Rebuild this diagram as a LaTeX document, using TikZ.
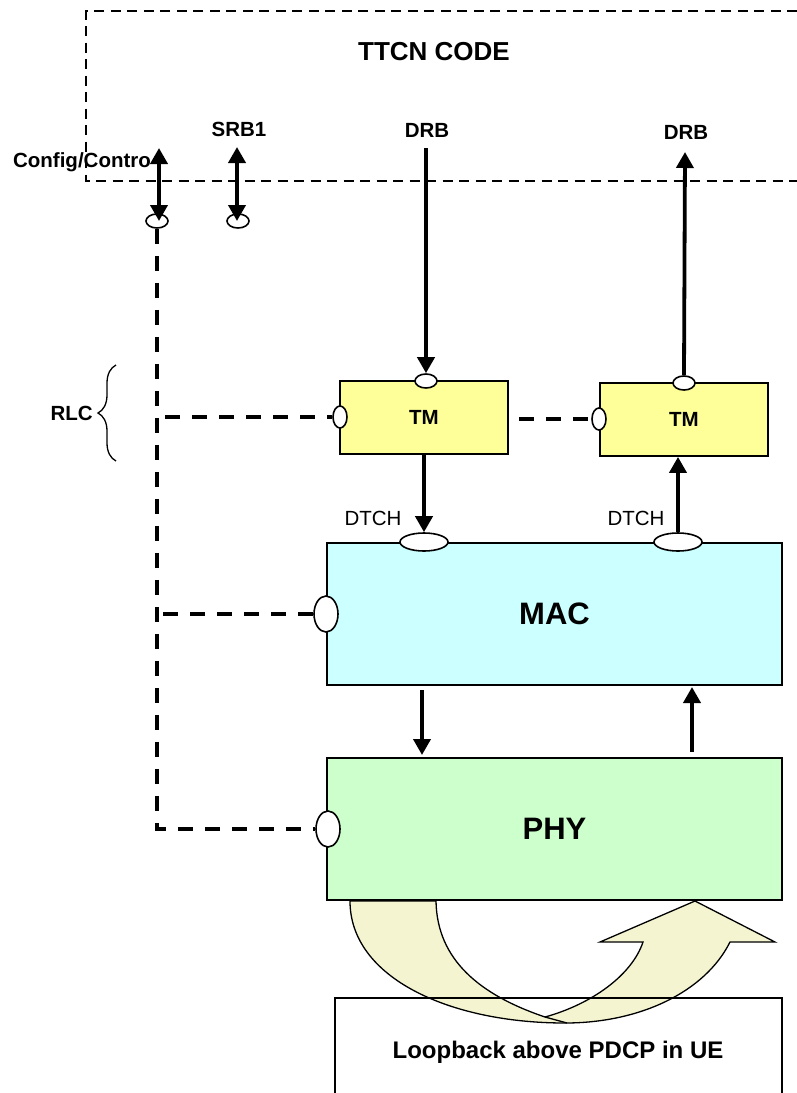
\documentclass[tikz,border=0pt]{standalone}
\usepackage{fontspec}
\setmainfont{Liberation Sans}
\usetikzlibrary{arrows.meta,shapes.geometric,decorations.pathreplacing,calc}
\definecolor{tmfill}{RGB}{255,255,153}
\definecolor{macfill}{RGB}{204,255,255}
\definecolor{phyfill}{RGB}{204,255,204}
\definecolor{loopfill}{RGB}{243,243,203}
\begin{document}
\begin{tikzpicture}[x=1pt,y=-1pt,
  port/.style={ellipse,draw,fill=white,line width=1.6pt,inner sep=0pt},
  block/.style={rectangle,draw,line width=1.8pt,inner sep=0pt},
  arr/.style={line width=3.8pt,-{Triangle[width=17pt,length=16pt]}},
  darr/.style={line width=3.8pt,{Triangle[width=17pt,length=16pt]}-{Triangle[width=17pt,length=16pt]}},
  ctl/.style={line width=3.3pt,dash pattern=on 15pt off 12pt},
  ttcn/.style={line width=1.2pt,dash pattern=on 10pt off 6.5pt},
  lbl/.style={font=\bfseries\fontsize{20.5}{24}\selectfont,inner sep=0pt},
  plain/.style={font=\fontsize{20.5}{24}\selectfont,inner sep=0pt},
  big/.style={font=\bfseries\fontsize{31}{36}\selectfont,inner sep=0pt}]
\useasboundingbox (0,0) rectangle (797,1093);

% TTCN code area
\draw[ttcn] (797,11) -- (86,11) -- (86,181) -- (797,181);
\node[font=\bfseries\fontsize{26}{30}\selectfont,inner sep=0pt] (ttcnlbl) at (434,52) {TTCN CODE};

% labels
\node[lbl] (cfglbl) at (82,162) {Config/Contro};
\node[lbl] (srblbl) at (239,129) {SRB1};
\node[lbl] (drb1lbl) at (427,130) {DRB};
\node[lbl] (drb2lbl) at (686,132) {DRB};
\node[lbl,anchor=east] (rlclbl) at (93,413) {RLC};

% blocks
\node[block,fill=tmfill,minimum width=168pt,minimum height=73pt,lbl] (tm1) at (424,417.5) {TM};
\node[block,fill=tmfill,minimum width=168pt,minimum height=73pt,lbl] (tm2) at (684,419.5) {TM};
\node[block,fill=macfill,minimum width=455pt,minimum height=142pt,big] (mac) at (554.5,614) {MAC};
\node[block,fill=phyfill,minimum width=455pt,minimum height=142pt,big] (phy) at (554.5,829) {PHY};

% loopback curved arrow
\filldraw[fill=loopfill,fill opacity=0.9,line width=1.3pt]
  (350,901) .. controls (350,978) and (450,1023) .. (565,1023)
  .. controls (640,1023) and (705,992) .. (730,942)
  -- (775,942) -- (695,901) -- (600,942) -- (643,942)
  .. controls (632,975) and (592,1004) .. (545,1017)
  .. controls (480,995) and (437,960) .. (436,901) -- cycle;
\draw[line width=1.3pt] (545,1017) -- (567,1023);

% loopback box
\draw[line width=1.8pt] (335,1095) -- (335,998) -- (782,998) -- (782,1095);
\node[font=\bfseries\fontsize{24}{28}\selectfont,inner sep=0pt] (loop) at (558,1052) {Loopback above PDCP in UE};

% ports
\node[port,minimum width=22pt,minimum height=14pt] (pcfg) at (157,221) {};
\node[port,minimum width=22pt,minimum height=14pt] (psrb) at (238,221) {};
\node[port,minimum width=22pt,minimum height=14pt] (ptm1t) at (426,381) {};
\node[port,minimum width=22pt,minimum height=14pt] (ptm2t) at (684,383) {};
\node[port,minimum width=14pt,minimum height=22pt] (ptm1l) at (340,417) {};
\node[port,minimum width=14pt,minimum height=22pt] (ptm2l) at (599,419) {};
\node[port,minimum width=48pt,minimum height=18pt] (pmac1) at (424,542) {};
\node[port,minimum width=48pt,minimum height=18pt] (pmac2) at (678,542) {};
\node[port,minimum width=24pt,minimum height=36pt] (pmacl) at (326,614) {};
\node[port,minimum width=24pt,minimum height=36pt] (pphyl) at (328,829) {};

% DTCH labels
\node[plain] (dtch1) at (373,518) {DTCH};
\node[plain] (dtch2) at (636,518) {DTCH};

% brace
\draw[line width=1.3pt,decorate,decoration={brace,amplitude=18pt}] (116,461) -- (116,365);

% arrows from TTCN
\coordinate (cfgtop) at (159,148);
\coordinate (srbtop) at (237,147);
\coordinate (drb1top) at (426,148);
\coordinate (drb2top) at (685,152);
\draw[darr] (cfgtop) -- (cfgtop |- pcfg.center);
\draw[darr] (srbtop) -- (srbtop |- psrb.center);
\draw[arr] (drb1top) -- (ptm1t.north);
\draw[arr] (ptm2t.north) -- (drb2top);

% TM <-> MAC
\draw[arr] (tm1.south) -- (pmac1.north);
\draw[arr] (pmac2.north) -- (pmac2.north |- tm2.south);

% MAC <-> PHY
\coordinate (mdtop) at (422,690);
\coordinate (mdbot) at (422,755);
\coordinate (mutop) at (692,687);
\coordinate (mubot) at (692,752);
\draw[arr] (mdtop) -- (mdbot);
\draw[arr] (mubot) -- (mutop);

% control dashed lines
\draw[ctl] (pcfg.south) |- (pphyl.west);
\draw[ctl] (pcfg |- ptm1l) ++(8,0) -- (ptm1l.west);
\draw[ctl] (pcfg |- pmacl) ++(6,0) -- (pmacl.west);
\draw[ctl] (tm1.east |- ptm2l) ++(10,0) -- (ptm2l.west);
\end{tikzpicture}
\end{document}
